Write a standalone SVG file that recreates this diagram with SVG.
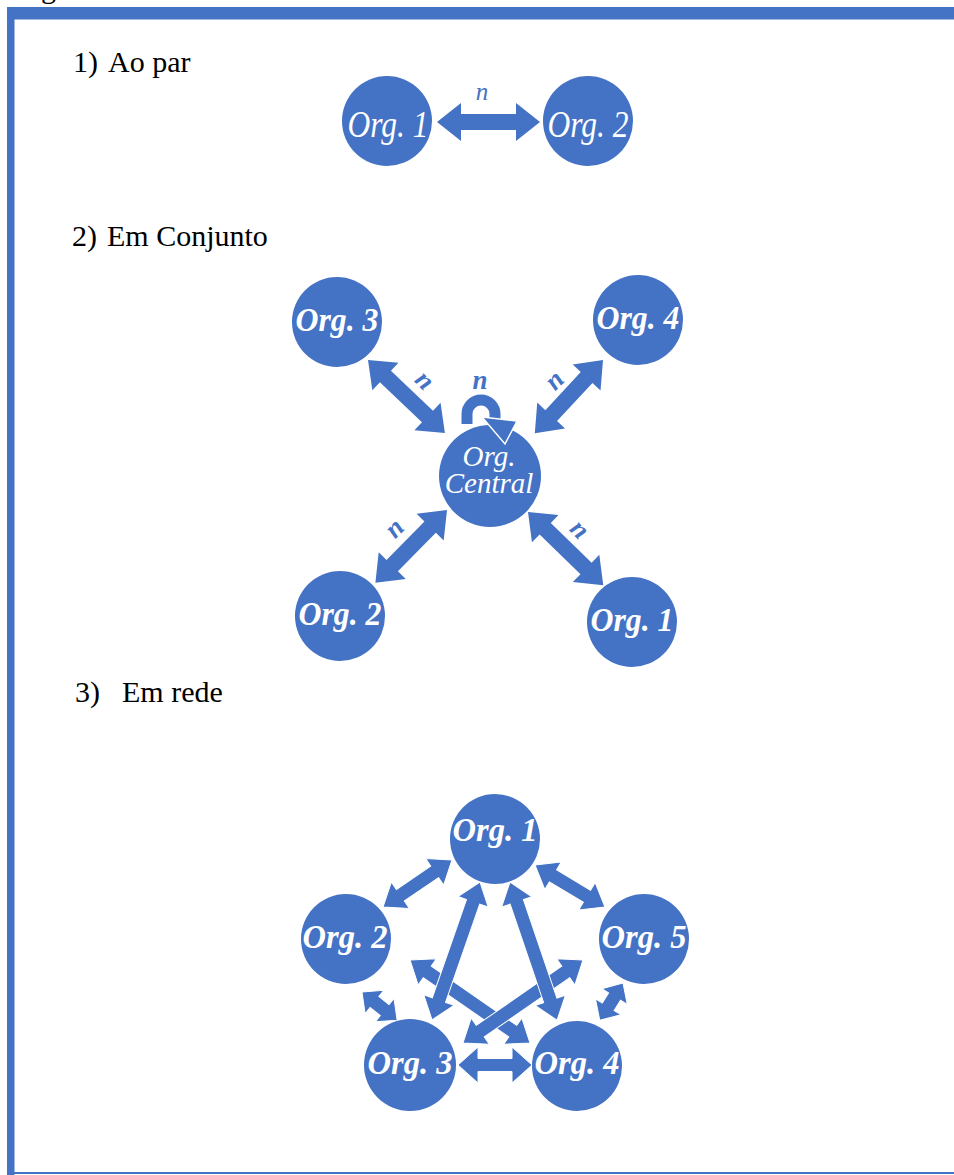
<svg xmlns="http://www.w3.org/2000/svg" width="954" height="1175" viewBox="0 0 954 1175">
<style>
.frame{fill:#4472C4}
.node{fill:#4472C4}
.arr{fill:#4472C4}
.arr3{fill:#4472C4;stroke:#ffffff;stroke-width:1}
text{font-family:"Liberation Serif","Times New Roman",Times,serif}
.head{font-size:30px;fill:#000}
.lbl{font-style:italic;fill:#ffffff;text-anchor:middle}
.lr{font-size:38px}
.lb{font-size:34px;font-weight:bold}
.nl{font-style:italic;text-anchor:middle;fill:#4472C4}
</style>
<rect width="954" height="1175" fill="#ffffff"/>
<g id="frame">
<text x="41" y="-2" class="head">g</text>
<rect class="frame" x="7" y="7" width="947" height="12.5"/>
<rect class="frame" x="7" y="7" width="7.5" height="1168"/>
<rect class="frame" x="7" y="1172" width="947" height="2"/>
</g>
<g id="headings">
<text class="head" x="73" y="72">1)</text><text class="head" x="108" y="72">Ao par</text>
<text class="head" x="72" y="246">2)</text><text class="head" x="107" y="246">Em Conjunto</text>
<text class="head" x="75" y="702">3)</text><text class="head" x="122" y="702">Em rede</text>
</g>
<g id="connectors">
<polygon class="arr" transform="translate(437,122)" points="0,0 24,-19 24,-8 79,-8 79,-19 103,0 79,19 79,8 24,8 24,19"/>
<polygon class="arr" transform="translate(368,360) rotate(43.5)" points="0,0 24,-19 24,-8 82,-8 82,-19 106,0 82,19 82,8 24,8 24,19"/>
<polygon class="arr" transform="translate(603,360) rotate(133)" points="0,0 24,-19 24,-8 76,-8 76,-19 100,0 76,19 76,8 24,8 24,19"/>
<polygon class="arr" transform="translate(447,510) rotate(134.6)" points="0,0 24,-19 24,-8 78,-8 78,-19 102,0 78,19 78,8 24,8 24,19"/>
<polygon class="arr" transform="translate(528,512) rotate(44.2)" points="0,0 24,-19 24,-8 81,-8 81,-19 105,0 81,19 81,8 24,8 24,19"/>
<polygon class="arr3" transform="translate(452,860) rotate(145.7)" points="0,0 21,-16 21,-7 62.5,-7 62.5,-16 83.5,0 62.5,16 62.5,7 21,7 21,16"/>
<polygon class="arr3" transform="translate(535,865) rotate(31)" points="0,0 21,-16 21,-7 60.6,-7 60.6,-16 81.6,0 60.6,16 60.6,7 21,7 21,16"/>
<polygon class="arr3" transform="translate(410,960) rotate(34.7)" points="0,0 21,-16 21,-7 125,-7 125,-16 146,0 125,16 125,7 21,7 21,16"/>
<polygon class="arr3" transform="translate(583,960) rotate(145.3)" points="0,0 21,-16 21,-7 125,-7 125,-16 146,0 125,16 125,7 21,7 21,16"/>
<polygon class="arr3" transform="translate(480,882) rotate(109.2)" points="0,0 21,-16 21,-7 125,-7 125,-16 146,0 125,16 125,7 21,7 21,16"/>
<polygon class="arr3" transform="translate(510,882) rotate(71.2)" points="0,0 21,-16 21,-7 125,-7 125,-16 146,0 125,16 125,7 21,7 21,16"/>
<polygon class="arr3" transform="translate(362,992) rotate(38.7)" points="0,0 16,-15 16,-7 29,-7 29,-15 45,0 29,15 29,7 16,7 16,15"/>
<polygon class="arr3" transform="translate(623,983) rotate(121.9)" points="0,0 16,-15 16,-7 28,-7 28,-15 44,0 28,15 28,7 16,7 16,15"/>
<polygon class="arr3" transform="translate(458,1065)" points="0,0 20,-18 20,-6.5 54,-6.5 54,-18 74,0 54,18 54,6.5 20,6.5 20,18"/>
</g>
<g id="labels-n">
<text class="nl" x="482" y="100" font-size="25">n</text>
<text class="nl" font-size="27" font-weight="bold" transform="translate(423,382) rotate(45)" x="0" y="6">n</text>
<text class="nl" font-size="27" font-weight="bold" x="480" y="389">n</text>
<text class="nl" font-size="27" font-weight="bold" transform="translate(556,382) rotate(-45)" x="0" y="6">n</text>
<text class="nl" font-size="27" font-weight="bold" transform="translate(396,530) rotate(-45)" x="0" y="6">n</text>
<text class="nl" font-size="27" font-weight="bold" transform="translate(578,531) rotate(45)" x="0" y="6">n</text>
</g>
<g id="s1-org1"><circle class="node" cx="387" cy="121" r="45"/><text class="lbl lr" x="388" y="137" textLength="81" lengthAdjust="spacingAndGlyphs">Org. 1</text></g>
<g id="s1-org2"><circle class="node" cx="588" cy="121" r="45"/><text class="lbl lr" x="588" y="137" textLength="81" lengthAdjust="spacingAndGlyphs">Org. 2</text></g>
<g id="s2-org3"><circle class="node" cx="337" cy="322" r="45"/><text class="lbl lb" x="337" y="331" textLength="83" lengthAdjust="spacingAndGlyphs">Org. 3</text></g>
<g id="s2-org4"><circle class="node" cx="638" cy="320" r="45"/><text class="lbl lb" x="638" y="329" textLength="83" lengthAdjust="spacingAndGlyphs">Org. 4</text></g>
<g id="s2-org2"><circle class="node" cx="340" cy="616" r="45"/><text class="lbl lb" x="340" y="625" textLength="83" lengthAdjust="spacingAndGlyphs">Org. 2</text></g>
<g id="s2-org1"><circle class="node" cx="632" cy="622" r="45"/><text class="lbl lb" x="632" y="631" textLength="83" lengthAdjust="spacingAndGlyphs">Org. 1</text></g>
<g id="s2-central">
<circle class="node" cx="490" cy="476" r="51"/>
<text class="lbl" font-size="29"><tspan x="489" y="466">Org.</tspan><tspan x="489" y="493">Central</tspan></text>
</g>
<g id="s2-loop">
<path d="M467,424 L467,414 A14,14 0 0 1 495,414 L495,420" fill="none" stroke="#4472C4" stroke-width="11"/>
<polygon points="482,417 517,421 505,444" fill="#4472C4" stroke="#ffffff" stroke-width="1.5"/>
</g>
<g id="s3-org1"><circle class="node" cx="495" cy="839" r="45"/><text class="lbl lb" x="495" y="841" textLength="85" lengthAdjust="spacingAndGlyphs">Org. 1</text></g>
<g id="s3-org2"><circle class="node" cx="346" cy="939" r="45"/><text class="lbl lb" x="345" y="948" textLength="85" lengthAdjust="spacingAndGlyphs">Org. 2</text></g>
<g id="s3-org5"><circle class="node" cx="644" cy="939" r="45"/><text class="lbl lb" x="644" y="948" textLength="85" lengthAdjust="spacingAndGlyphs">Org. 5</text></g>
<g id="s3-org3"><circle class="node" cx="410" cy="1065" r="46"/><text class="lbl lb" x="410" y="1074" textLength="85" lengthAdjust="spacingAndGlyphs">Org. 3</text></g>
<g id="s3-org4"><circle class="node" cx="577" cy="1066" r="45"/><text class="lbl lb" x="577" y="1074" textLength="85" lengthAdjust="spacingAndGlyphs">Org. 4</text></g>
</svg>
